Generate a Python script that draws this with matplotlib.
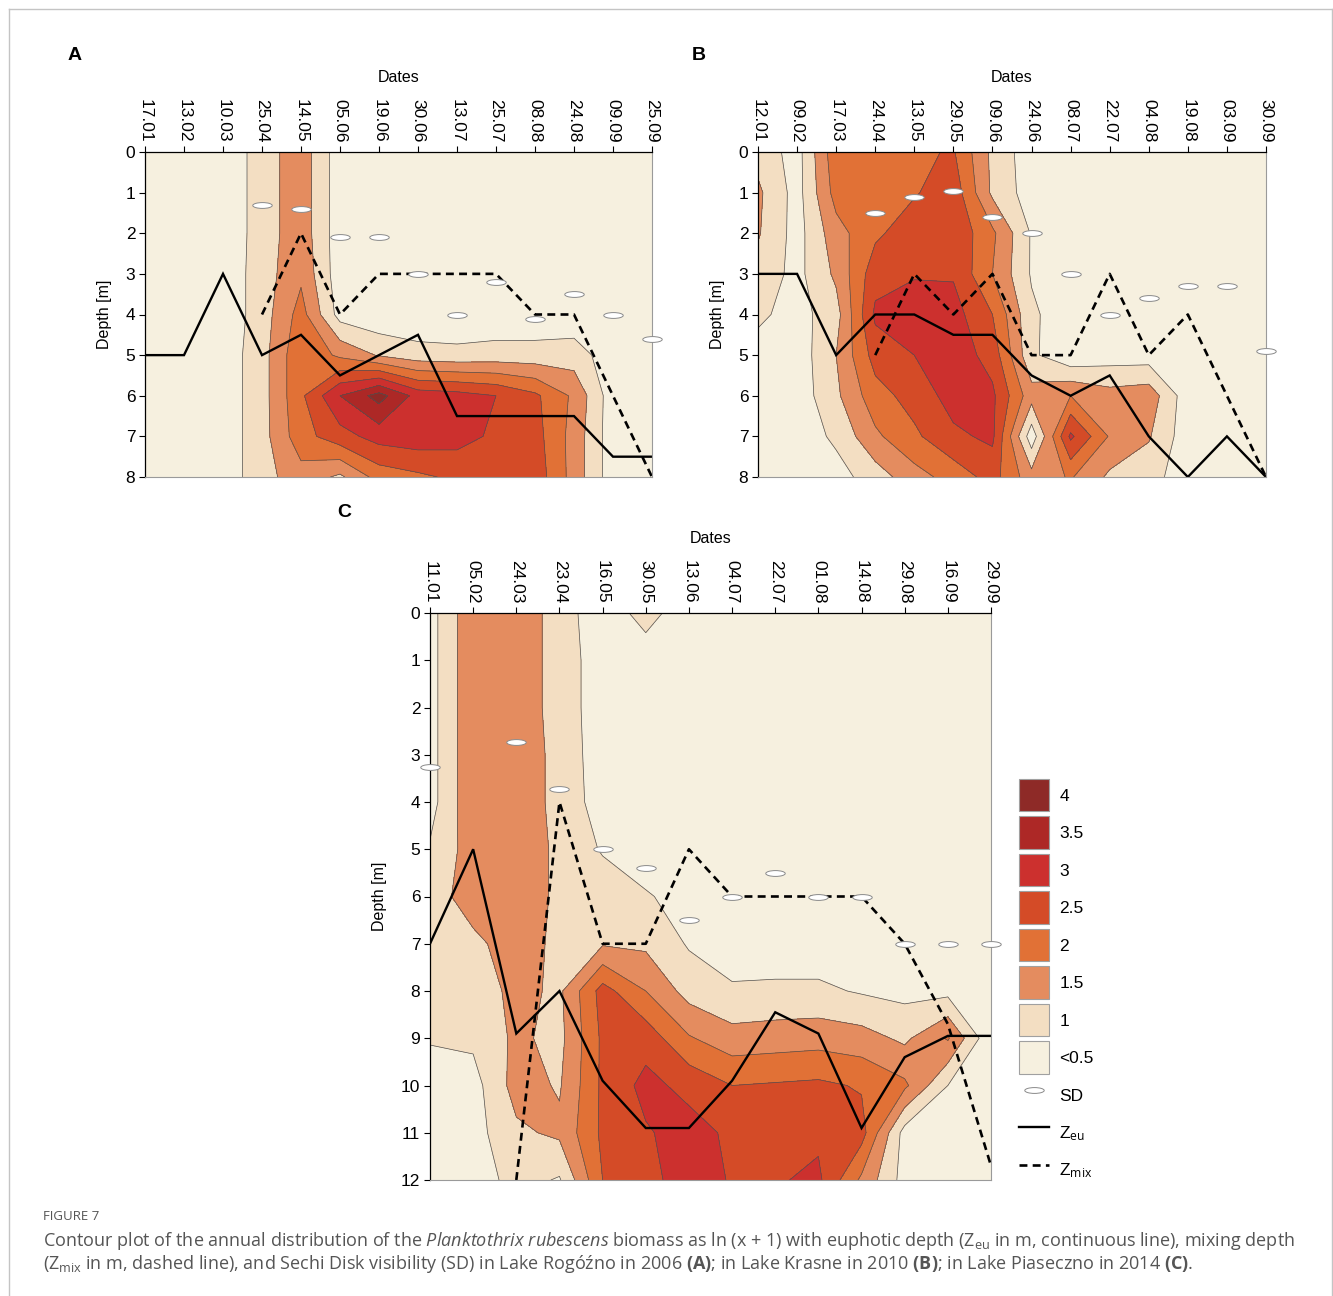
import numpy as np
import matplotlib.pyplot as plt
from matplotlib.patches import Patch
from matplotlib.lines import Line2D
from matplotlib.path import Path

plt.rcParams['font.family'] = ['Liberation Sans', 'DejaVu Sans']
plt.rcParams['mathtext.fontset'] = 'custom'
plt.rcParams['mathtext.rm'] = 'Open Sans'
plt.rcParams['mathtext.it'] = 'Open Sans:italic'
plt.rcParams['mathtext.bf'] = 'Open Sans:bold'

# --- Lake Rogozno 2006 ---
dates_a = ['17.01', '13.02', '10.03', '25.04', '14.05', '05.06', '19.06',
           '30.06', '13.07', '25.07', '08.08', '24.08', '09.09', '25.09']
depth_a = [0, 1, 2, 3, 4, 5, 6, 7, 8]
biomass_a = [
    [0.1, 0.1, 0.1, 0.75, 1.3, 0.2, 0.1, 0.1, 0.1, 0.1, 0.1, 0.1, 0.1, 0.1],
    [0.1, 0.1, 0.1, 0.75, 1.3, 0.2, 0.1, 0.1, 0.1, 0.1, 0.1, 0.1, 0.1, 0.1],
    [0.1, 0.1, 0.1, 0.75, 1.3, 0.2, 0.1, 0.1, 0.1, 0.1, 0.1, 0.1, 0.1, 0.1],
    [0.1, 0.1, 0.15, 0.75, 1.4, 0.2, 0.1, 0.1, 0.1, 0.1, 0.1, 0.1, 0.1, 0.1],
    [0.1, 0.1, 0.15, 0.75, 1.7, 0.3, 0.1, 0.1, 0.1, 0.15, 0.15, 0.15, 0.1, 0.1],
    [0.1, 0.1, 0.2, 0.8, 1.9, 1.4, 0.95, 0.7, 0.65, 0.7, 0.7, 0.75, 0.2, 0.1],
    [0.1, 0.1, 0.2, 0.8, 1.9, 3.0, 3.7, 2.8, 2.7, 2.5, 2.1, 1.4, 0.2, 0.1],
    [0.1, 0.1, 0.2, 0.8, 1.8, 2.3, 2.7, 2.8, 2.7, 2.4, 2.2, 1.3, 0.2, 0.1],
    [0.1, 0.1, 0.2, 0.8, 1.3, 0.9, 1.7, 1.9, 2.1, 2.3, 2.3, 1.3, 0.2, 0.1],
]
zeu_a = [5, 5, 3, 5, 4.5, 5.5, 5, 4.5, 6.5, 6.5, 6.5, 6.5, 7.5, 7.5]
zmix_a = [np.nan, np.nan, np.nan, 4, 2, 4, 3, 3, 3, 3, 4, 4, 6, 8]
sd_a = [np.nan, np.nan, np.nan, 1.3, 1.4, 2.1, 2.1, 3.0, 4.0, 3.2, 4.1, 3.5, 4.0, 4.6]

# --- Lake Krasne 2010 ---
dates_b = ['12.01', '09.02', '17.03', '24.04', '13.05', '29.05', '09.06',
           '24.06', '08.07', '22.07', '04.08', '19.08', '03.09', '30.09']
depth_b = [0, 1, 2, 3, 4, 5, 6, 7, 8]
biomass_b = [
    [0.8, 0.3, 1.85, 1.8, 1.9, 2.05, 0.88, 0.2, 0.1, 0.1, 0.1, 0.1, 0.1, 0.1],
    [1.1, 0.3, 1.7, 1.8, 1.95, 2.3, 0.9, 0.25, 0.1, 0.1, 0.1, 0.1, 0.1, 0.1],
    [1.05, 0.3, 1.3, 1.9, 2.3, 2.4, 1.6, 0.45, 0.1, 0.1, 0.1, 0.1, 0.1, 0.1],
    [0.8, 0.35, 1.1, 2.3, 2.45, 2.45, 1.5, 0.45, 0.1, 0.1, 0.1, 0.1, 0.1, 0.1],
    [0.6, 0.3, 0.8, 2.6, 2.8, 2.7, 2.0, 0.6, 0.15, 0.15, 0.15, 0.15, 0.1, 0.1],
    [0.3, 0.2, 1.0, 2.2, 2.5, 2.8, 2.3, 0.6, 0.1, 0.25, 0.25, 0.2, 0.1, 0.1],
    [0.2, 0.2, 0.9, 1.8, 2.2, 2.7, 2.6, 1.2, 1.5, 1.2, 1.3, 0.2, 0.1, 0.1],
    [0.2, 0.2, 0.6, 1.4, 1.9, 2.4, 2.6, 0.2, 2.6, 1.45, 1.05, 0.2, 0.1, 0.1],
    [0.1, 0.1, 0.3, 0.75, 1.3, 1.7, 2.2, 1.2, 1.55, 0.9, 0.7, 0.2, 0.1, 0.1],
]
zeu_b = [3, 3, 5, 4, 4, 4.5, 4.5, 5.5, 6, 5.5, 7, 8, 7, 8]
zmix_b = [np.nan, np.nan, np.nan, 5, 3, 4, 3, 5, 5, 3, 5, 4, 6, 8]
sd_b = [np.nan, np.nan, np.nan, 1.5, 1.1, 0.95, 1.6, 2.0, 3.0, 4.0, 3.6, 3.3, 3.3, 4.9]

# --- Lake Piaseczno 2014 ---
dates_c = ['11.01', '05.02', '24.03', '23.04', '16.05', '30.05', '13.06',
           '04.07', '22.07', '01.08', '14.08', '29.08', '16.09', '29.09']
depth_c = [0, 1, 2, 3, 4, 5, 6, 7, 8, 9, 10, 11, 12]
biomass_c = [
    [0.3, 1.4, 1.3, 0.8, 0.1, 0.75, 0.1, 0.1, 0.1, 0.1, 0.1, 0.1, 0.1, 0.1],
    [0.3, 1.4, 1.3, 0.8, 0.2, 0.15, 0.1, 0.1, 0.1, 0.1, 0.1, 0.1, 0.1, 0.1],
    [0.3, 1.4, 1.3, 0.8, 0.2, 0.15, 0.1, 0.1, 0.1, 0.1, 0.1, 0.1, 0.1, 0.1],
    [0.3, 1.4, 1.3, 0.85, 0.2, 0.15, 0.1, 0.1, 0.1, 0.1, 0.1, 0.1, 0.1, 0.1],
    [0.3, 1.4, 1.3, 0.85, 0.25, 0.15, 0.1, 0.1, 0.1, 0.1, 0.1, 0.1, 0.1, 0.1],
    [0.55, 1.25, 1.3, 0.9, 0.45, 0.2, 0.1, 0.1, 0.1, 0.1, 0.1, 0.1, 0.1, 0.1],
    [0.7, 1.3, 1.3, 0.9, 0.8, 0.55, 0.3, 0.2, 0.15, 0.1, 0.1, 0.1, 0.1, 0.1],
    [0.8, 0.85, 1.3, 0.85, 0.95, 0.9, 0.45, 0.3, 0.2, 0.2, 0.2, 0.15, 0.1, 0.1],
    [0.7, 0.7, 1.15, 0.9, 2.2, 1.5, 0.8, 0.55, 0.6, 0.6, 0.45, 0.35, 0.35, 0.1],
    [0.55, 0.6, 1.1, 0.85, 2.1, 2.3, 1.55, 1.2, 1.25, 1.3, 1.2, 0.9, 1.55, 0.1],
    [0.2, 0.3, 1.2, 0.95, 2.1, 2.65, 2.35, 2.0, 2.05, 2.1, 1.95, 1.6, 0.5, 0.1],
    [0.2, 0.3, 0.9, 1.1, 2.1, 2.45, 2.7, 2.4, 2.4, 2.4, 2.2, 0.3, 0.2, 0.1],
    [0.2, 0.2, 0.7, 0.45, 2.0, 2.3, 2.8, 2.45, 2.45, 2.6, 1.4, 0.3, 0.1, 0.1],
]
zeu_c = [7, 5, 8.9, 8, 9.9, 10.9, 10.9, 9.9, 8.45, 8.9, 10.9, 9.4, 8.95, 8.95]
zmix_c = [np.nan, np.nan, 12, 4, 7, 7, 5, 6, 6, 6, 6, 7, 8.7, 11.7]
sd_c = [3.25, np.nan, 2.72, 3.73, 5.0, 5.4, 6.5, 6.0, 5.5, 6.0, 6.0, 7.0, 7.0, 7.0]

# ln(x+1) classes
levels = [-1, 0.5, 1.0, 1.5, 2.0, 2.5, 3.0, 3.5, 10]
class_colors = ['#f6f0df', '#f3dec2', '#e48c5f', '#e17136',
                '#d44b27', '#cc302e', '#ad2826', '#8e2a27']
class_labels = ['<0.5', '1', '1.5', '2', '2.5', '3', '3.5', '4']

# flat ellipse used as the Secchi disk symbol
_circ = Path.unit_circle()
sd_marker = Path(_circ.vertices * [1.0, 0.3], _circ.codes)


def draw_panel(ax, dates, depth, biomass, zeu, zmix, sd):
    x = np.arange(len(dates))
    z = np.array(biomass)
    ax.contourf(x, depth, z, levels=levels, colors=class_colors)
    ax.contour(x, depth, z, levels=levels[1:-1], colors='#505050', linewidths=0.5)
    ax.plot(x, zeu, color='black', lw=1.7, solid_joinstyle='miter')
    ax.plot(x, zmix, color='black', lw=1.9, dashes=(3.0, 2.0))
    ax.plot(x, sd, ls='none', marker=sd_marker, ms=14, mfc='white',
            mec='#8a8a8a', mew=0.7, clip_on=False, zorder=5)

    ax.set_xlim(0, len(dates) - 1)
    ax.set_ylim(depth[-1], 0)
    ax.xaxis.tick_top()
    ax.xaxis.set_label_position('top')
    ax.set_xticks(x)
    ax.set_xticklabels(dates, rotation=-90)
    ax.set_yticks(depth)
    ax.tick_params(axis='x', length=4, width=0.8, labelsize=12.5, pad=3)
    ax.tick_params(axis='y', length=4, width=0.8, labelsize=12.5, pad=3)
    ax.set_xlabel('Dates', fontsize=11.5, labelpad=12)
    ax.set_ylabel('Depth [m]', fontsize=11.5, labelpad=10)
    for side in ['right', 'bottom']:
        ax.spines[side].set_color('#9a9a9a')
        ax.spines[side].set_linewidth(0.8)
    for side in ['left', 'top']:
        ax.spines[side].set_linewidth(0.9)


fig = plt.figure(figsize=(13.33, 12.96), dpi=100)
W, H = 1333, 1296


def box(x0, y0, x1, y1):
    return [x0 / W, 1 - y1 / H, (x1 - x0) / W, (y1 - y0) / H]


ax_a = fig.add_axes(box(145, 152, 652, 477))
ax_b = fig.add_axes(box(758, 152, 1266, 477))
ax_c = fig.add_axes(box(430, 613, 991, 1180))

draw_panel(ax_a, dates_a, depth_a, biomass_a, zeu_a, zmix_a, sd_a)
draw_panel(ax_b, dates_b, depth_b, biomass_b, zeu_b, zmix_b, sd_b)
draw_panel(ax_c, dates_c, depth_c, biomass_c, zeu_c, zmix_c, sd_c)

for letter, px, py in [('A', 68, 55), ('B', 692, 55), ('C', 337, 513)]:
    fig.text(px / W, 1 - py / H, letter, fontsize=14, fontweight='bold', va='center')

# legend
handles = [Patch(facecolor=c, edgecolor='#a0a0a0', lw=0.8) for c in class_colors[::-1]]
labels = class_labels[::-1]
handles += [Line2D([], [], ls='none', marker=sd_marker, ms=14, mfc='white', mec='#8a8a8a', mew=0.7),
            Line2D([], [], color='black', lw=1.7),
            Line2D([], [], color='black', lw=1.9, dashes=(3.0, 2.0))]
labels += ['SD', r'Z$_{\mathrm{eu}}$', r'Z$_{\mathrm{mix}}$']
fig.legend(handles, labels, loc='upper left', bbox_to_anchor=(1019 / W, 1 - 779 / H),
           frameon=False, fontsize=12.5, handlelength=1.72, handleheight=2.5,
           labelspacing=0.29, handletextpad=0.6, borderpad=0, borderaxespad=0)

# outer frame
frame_kw = dict(transform=fig.transFigure, color='#c4c4c4', lw=1.0)
fig.add_artist(Line2D([9 / W, 9 / W], [0, 1 - 9 / H], **frame_kw))
fig.add_artist(Line2D([9 / W, 1332 / W], [1 - 9 / H, 1 - 9 / H], **frame_kw))
fig.add_artist(Line2D([1332 / W, 1332 / W], [0, 1 - 9 / H], **frame_kw))

# caption
cap_kw = dict(fontfamily='Open Sans', color='#555555')
fig.text(43 / W, 1 - 1217 / H, 'FIGURE 7', fontsize=9.5, va='center', **cap_kw)
line1 = (r'Contour plot of the annual distribution of the $\mathit{Planktothrix\ rubescens}$ '
         r'biomass as ln (x + 1) with euphotic depth (Z$_{\mathrm{eu}}$ in m, continuous line), mixing depth')
line2 = (r'(Z$_{\mathrm{mix}}$ in m, dashed line), and Sechi Disk visibility (SD) in Lake Rogóźno in 2006 '
         r'$\mathbf{(A)}$; in Lake Krasne in 2010 $\mathbf{(B)}$; in Lake Piaseczno in 2014 $\mathbf{(C)}$.')
fig.text(43 / W, 1 - 1241 / H, line1, fontsize=12.95, va='center', **cap_kw)
fig.text(43 / W, 1 - 1264 / H, line2, fontsize=12.95, va='center', **cap_kw)

fig.savefig('out.png', dpi=100, facecolor='white')
